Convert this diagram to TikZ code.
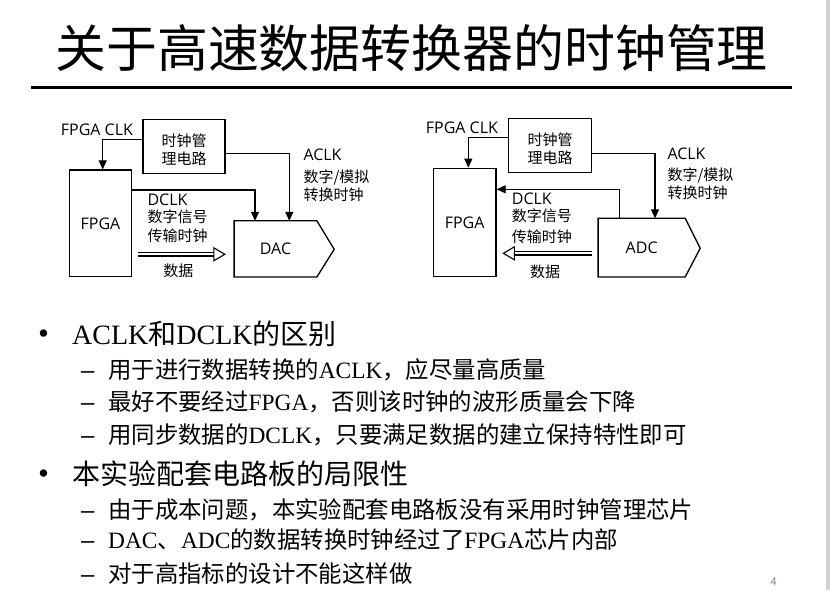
\documentclass[tikz,border=0pt]{standalone}
\usepackage{fontspec}
\setmainfont{Liberation Serif}
\newfontfamily\cjk{Noto Sans CJK SC}
\newfontfamily\lat{Open Sans}
\newfontfamily\asans{Liberation Sans}
\usetikzlibrary{arrows.meta,calc}
\tikzset{
  box/.style={draw, line width=1.3pt, inner sep=0pt},
  arr/.style={draw, line width=1.2pt, -{Triangle[length=9pt,width=8pt]}},
  dbl/.style={draw, line width=1.1pt, double distance=2.2pt},
  opentip/.style={draw, line width=1.1pt, fill=white},
  llbl/.style={anchor=base west, inner sep=0pt, font=\lat\fontsize{16}{18}\selectfont},
  clbl/.style={anchor=base west, inner sep=0pt, font=\cjk\fontsize{15}{18}\selectfont},
  boxtxt/.style={align=center, inner sep=0pt, font=\cjk\fontsize{15}{18.4}\selectfont},
  tone/.style={anchor=base west, inner sep=0pt, font=\fontsize{28}{32}\selectfont},
  ttwo/.style={anchor=base west, inner sep=0pt, font=\fontsize{23.4}{28}\selectfont},
  bul/.style={anchor=base, inner sep=0pt, font=\asans\fontsize{27}{27}\selectfont},
  dsh/.style={anchor=base west, inner sep=0pt, font=\asans\fontsize{24}{28}\selectfont},
}
\begin{document}
\begin{tikzpicture}[x=1pt,y=-1pt]
\useasboundingbox (0,0) rectangle (830,590);
\fill[gray!35] (826,0) rectangle (830,590);

% title
\node[anchor=base, inner sep=0pt, font=\cjk\fontsize{50.9}{56}\selectfont] (title) at (411.6,67.6) {关于高速数据转换器的时钟管理};
\draw[line width=3.5pt] (30.7,87.3) -- (791.5,87.3);

% ---------- left diagram (DAC) ----------
\node[box, minimum width=82pt, minimum height=54pt] (clk1) at (184,146.3) {};
\node[boxtxt] (clk1t) at ($(clk1)+(0,3.7)$) {时钟管\\理电路};
\node[box, minimum width=62.4pt, minimum height=106.7pt, font=\lat\fontsize{16}{18}\selectfont] (fpga1) at (100.5,223.35) {FPGA};
\node[minimum width=82.4pt, minimum height=55.7pt, inner sep=0pt, font=\lat\fontsize{16}{18}\selectfont] (dac1) at (275.5,248.85) {DAC};
\draw[line width=1.3pt, line join=miter] (dac1.north west) -- (dac1.north east) -- ($(dac1.east)+(17.3,0.5)$) -- (dac1.south east) -- (dac1.south west) -- cycle;

\node[llbl] (fclk1) at (60.7,135) {FPGA CLK};
\node[llbl] (aclk1) at (303.3,160.7) {ACLK};
\node[clbl] (aclkb1) at (303.3,182.2) {数字/模拟};
\node[clbl] (aclkc1) at (303.3,200.5) {转换时钟};
\node[llbl] (dclk1) at (147.3,205) {DCLK};
\node[clbl] (dclkb1) at (147.3,222.8) {数字信号};
\node[clbl] (dclkc1) at (147.3,241.5) {传输时钟};
\node[anchor=base, inner sep=0pt, font=\cjk\fontsize{15}{18}\selectfont] (data1) at (178.3,276.5) {数据};

\draw[arr] ($(clk1.west)+(0,-7)$) -| ($(fpga1.north)+(2.2,0)$);
\draw[arr] ($(clk1.east)+(0,7)$) -| ($(dac1.north)+(13.8,0)$);
\draw[arr] ($(fpga1.east)+(0,-33.35)$) -| ($(dac1.north)+(-20.5,0)$);
\coordinate (tip1) at ($(dac1.west)+(-9.3,5.45)$);
\draw[dbl] ($(fpga1.east)+(5.2,30.95)$) -- ($(tip1)+(-11,0)$);
\draw[opentip] (tip1) -- ++(-11,-6.5) -- ++(0,13) -- cycle;

% ---------- right diagram (ADC) ----------
\node[box, minimum width=83.4pt, minimum height=54pt] (clk2) at (550,145.3) {};
\node[boxtxt] (clk2t) at ($(clk2)+(0,3.7)$) {时钟管\\理电路};
\node[box, minimum width=62.7pt, minimum height=108.4pt, font=\lat\fontsize{16}{18}\selectfont] (fpga2) at (464.65,222.5) {FPGA};
\node[minimum width=86.7pt, minimum height=58.2pt, inner sep=0pt, font=\lat\fontsize{16}{18}\selectfont] (adc2) at (641.65,247.6) {ADC};
\draw[line width=1.3pt, line join=miter] (adc2.north west) -- (adc2.north east) -- ($(adc2.east)+(15,0.7)$) -- (adc2.south east) -- (adc2.south west) -- cycle;

\node[llbl] (fclk2) at (425.7,133) {FPGA CLK};
\node[llbl] (aclk2) at (667.3,159) {ACLK};
\node[clbl] (aclkb2) at (667.3,180.5) {数字/模拟};
\node[clbl] (aclkc2) at (667.3,198.8) {转换时钟};
\node[llbl] (dclk2) at (511.7,204) {DCLK};
\node[clbl] (dclkb2) at (511.7,221.5) {数字信号};
\node[clbl] (dclkc2) at (511.7,242.2) {传输时钟};
\node[anchor=base, inner sep=0pt, font=\cjk\fontsize{15}{18}\selectfont] (data2) at (545,277.2) {数据};

\draw[arr] ($(clk2.west)+(0,-7.6)$) -| ($(fpga2.north)+(3.65,0)$);
\draw[arr] ($(clk2.east)+(0,8)$) -| ($(adc2.north)+(13.35,0)$);
\draw[arr] ($(adc2.north)+(-22.35,0)$) |- ($(fpga2.east)+(0,-33.2)$);
\coordinate (tip2) at ($(fpga2.east)+(6.7,30.8)$);
\draw[dbl] ($(adc2.west)+(-6.6,5.7)$) -- ($(tip2)+(11,0)$);
\draw[opentip] (tip2) -- ++(11,-6.5) -- ++(0,13) -- cycle;

% ---------- bullets ----------
\node[bul] (b1) at (43.5,342) {•};
\node[tone] (l1) at (72,344) {ACLK{\cjk 和}DCLK{\cjk 的区别}};
\node[dsh] (d11) at (81,378.2) {–};
\node[ttwo] (l11) at (108,378.2) {{\cjk 用于进行数据转换的}ACLK{\cjk ，应尽量高质量}};
\node[dsh] (d12) at (81,410.6) {–};
\node[ttwo] (l12) at (108,410.6) {{\cjk 最好不要经过}FPGA{\cjk ，否则该时钟的波形质量会下降}};
\node[dsh] (d13) at (81,443.9) {–};
\node[ttwo] (l13) at (108,443.9) {{\cjk 用同步数据的}DCLK{\cjk ，只要满足数据的建立保持特性即可}};
\node[bul] (b2) at (43.5,482) {•};
\node[tone] (l2) at (72,484) {{\cjk 本实验配套电路板的局限性}};
\node[dsh] (d21) at (81,518.9) {–};
\node[ttwo] (l21) at (108,518.9) {{\cjk 由于成本问题，本实验配套电路板没有采用时钟管理芯片}};
\node[dsh] (d22) at (81,548.9) {–};
\node[ttwo] (l22) at (108,548.9) {DAC{\cjk 、}ADC{\cjk 的数据转换时钟经过了}FPGA{\cjk 芯片内部}};
\node[dsh] (d23) at (81,582.2) {–};
\node[ttwo] (l23) at (108,582.2) {{\cjk 对于高指标的设计不能这样做}};

\node[anchor=base, inner sep=0pt, text=gray, font=\asans\fontsize{11}{11}\selectfont] (pg) at (773.7,585) {4};
\end{tikzpicture}
\end{document}
